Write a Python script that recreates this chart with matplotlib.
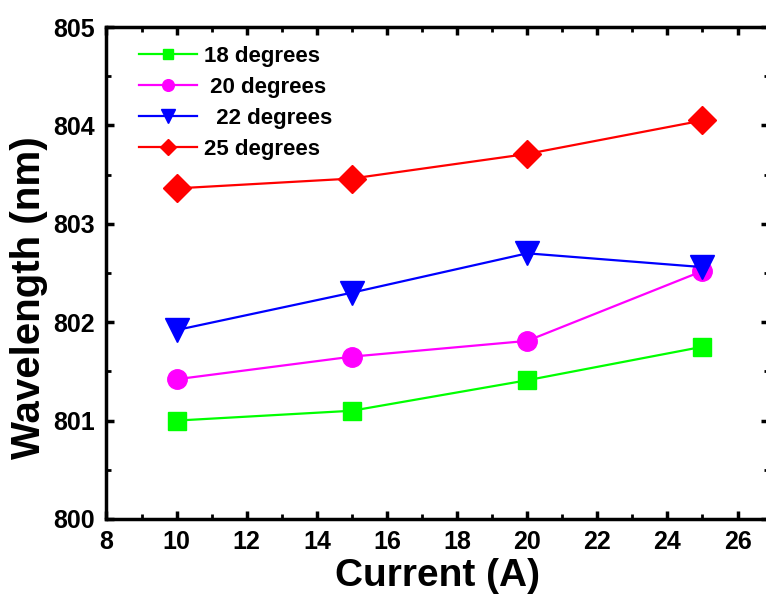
import matplotlib
matplotlib.use("Agg")
import matplotlib.pyplot as plt
from matplotlib.ticker import MultipleLocator

plt.rcParams['font.family'] = ['Liberation Sans', 'DejaVu Sans']
plt.rcParams['font.weight'] = 'bold'

current = [10, 15, 20, 25]
wl_18 = [801.00, 801.10, 801.41, 801.75]
wl_20 = [801.42, 801.65, 801.81, 802.52]
wl_22 = [801.92, 802.30, 802.70, 802.56]
wl_25 = [803.36, 803.46, 803.71, 804.05]
labels = ["18 degrees", " 20 degrees", "  22 degrees", "25 degrees"]

fig = plt.figure(figsize=(7.66, 5.94), dpi=100)
ax = fig.add_axes([0.139, 0.1263, 0.865, 0.8282])

ax.plot(current, wl_18, color='#00ff00', marker='s', ms=13, lw=1.6, label=labels[0])
ax.plot(current, wl_20, color='#ff00ff', marker='o', ms=14, lw=1.6, label=labels[1])
ax.plot(current, wl_22, color='#0000ff', marker='v', ms=17, lw=1.6, label=labels[2])
ax.plot(current, wl_25, color='#ff0000', marker='D', ms=14, lw=1.6, label=labels[3])

ax.set_xlim(8, 26.9)
ax.set_ylim(800, 805)
ax.xaxis.set_major_locator(MultipleLocator(2))
ax.xaxis.set_minor_locator(MultipleLocator(1))
ax.yaxis.set_major_locator(MultipleLocator(1))
ax.yaxis.set_minor_locator(MultipleLocator(0.5))

ax.tick_params(which='both', direction='in', top=True, right=True, labelsize=18, pad=8)
ax.tick_params(which='major', length=6, width=2.5)
ax.tick_params(which='minor', length=3.5, width=2)
for s in ax.spines.values():
    s.set_linewidth(2.5)

ax.set_xlabel("Current (A)", fontsize=28, fontweight='bold', labelpad=3)
ax.set_ylabel("Wavelength (nm)", fontsize=29, fontweight='bold')
ax.yaxis.set_label_coords(-0.088, 0.449)

ax.legend(loc='upper left', bbox_to_anchor=(0.036, 0.979), frameon=False,
          markerscale=0.6, handlelength=2.6, handletextpad=0.3, labelspacing=0.45,
          borderaxespad=0, prop={'weight': 'bold', 'size': 16})

fig.savefig("out.png", dpi=100)
